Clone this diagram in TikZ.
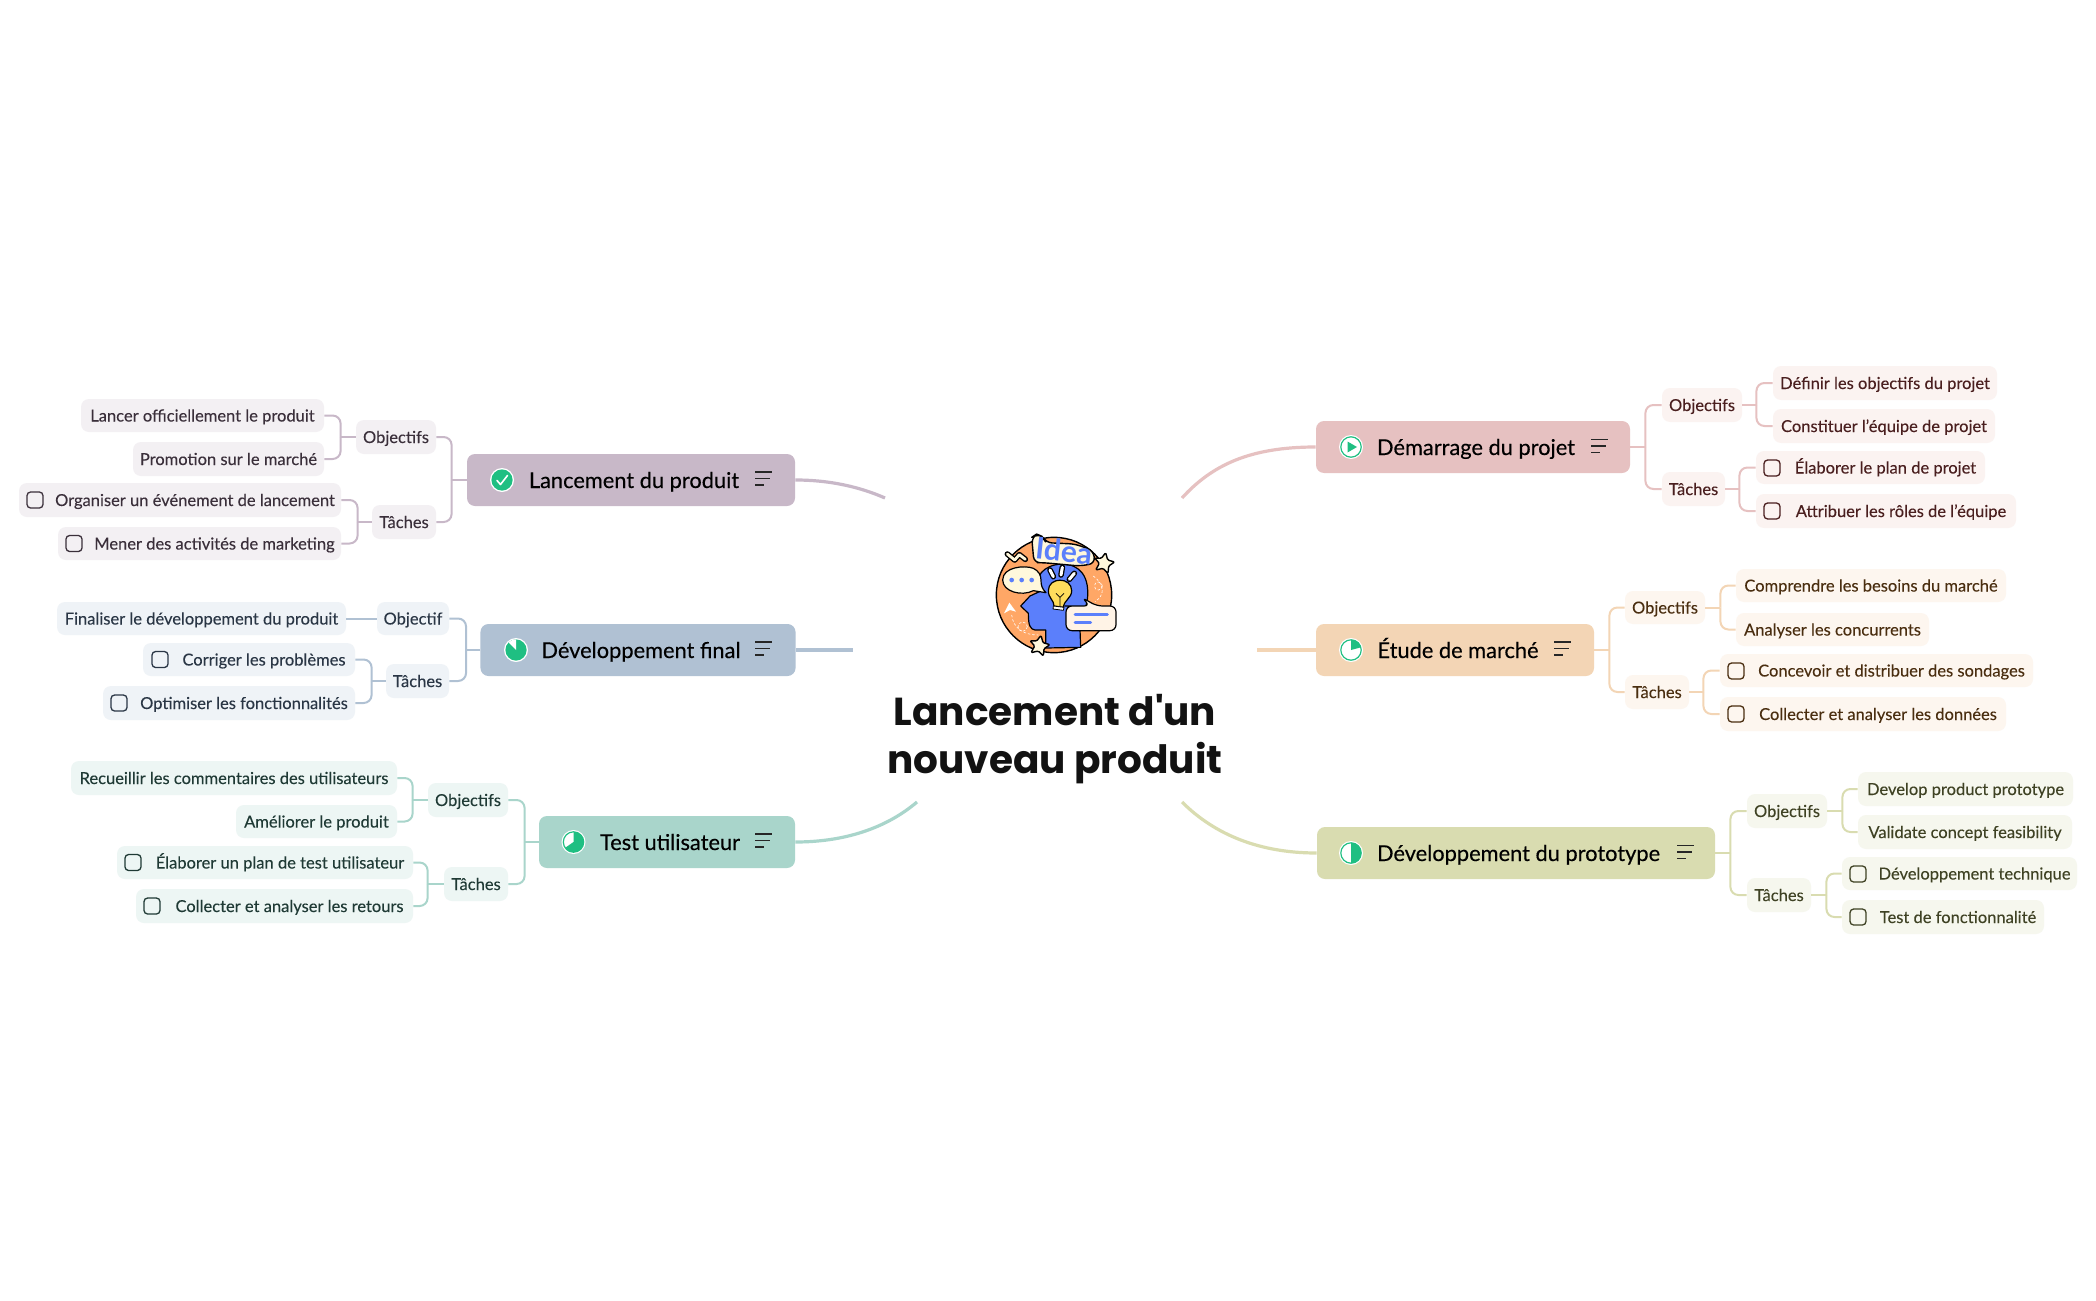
\documentclass[tikz,border=0pt]{standalone}
\usepackage{fontspec}
\setmainfont[FakeBold=0.12]{Lato}
\newfontfamily\titlefont{Poppins}
\newfontfamily\ideafont{Lato}
\newfontfamily\rootfont[FakeBold=0.3]{Lato}
\newdimen\pxu \pxu=0.5pt
\definecolor{gr}{HTML}{1FBF82}
\definecolor{ra}{HTML}{E6C1C1}\definecolor{rb}{HTML}{FBF3F1}\definecolor{rc}{HTML}{4A1F1F}
\definecolor{oa}{HTML}{F3D5B5}\definecolor{ob}{HTML}{FDF6EF}\definecolor{oc}{HTML}{4A2E10}
\definecolor{ya}{HTML}{D9DCB0}\definecolor{yb}{HTML}{F6F7EE}\definecolor{yc}{HTML}{3F4224}
\definecolor{pa}{HTML}{C8B8C8}\definecolor{pb}{HTML}{F3F0F3}\definecolor{pc}{HTML}{3A2F3A}
\definecolor{ba}{HTML}{B0C1D3}\definecolor{bb}{HTML}{EFF3F7}\definecolor{bc}{HTML}{2A3645}
\definecolor{ta}{HTML}{A9D5CB}\definecolor{tb}{HTML}{EDF6F4}\definecolor{tc}{HTML}{1F3A35}
\definecolor{orng}{HTML}{FFA766}\definecolor{blu}{HTML}{5B7FFB}\definecolor{crm}{HTML}{FFF8DC}
\definecolor{ylw}{HTML}{FFDD5C}\definecolor{pale}{HTML}{FFF3E6}
\tikzset{
 rootbox/.style={rounded corners=4pt,inner sep=0pt,text height=11pt,text depth=3pt,font=\rootfont\fontsize{10.9}{12}\selectfont,text=black},
 subbox/.style={rounded corners=4pt,inner sep=0pt,text height=8pt,text depth=2pt,font=\fontsize{8.25}{9}\selectfont},
 curve/.style={line width=1.6pt},
 elbow/.style={line width=1pt},
 chk/.style={line width=0.65pt,rounded corners=1.8pt},
 menuline/.style={line width=0.8pt,color=black!85},
}
\newcommand\bx[8]{\node[#2,minimum width={(#5-#3)*0.5pt},minimum height={(#6-#4)*0.5pt}] (#1) at ({(#3+#5)/2},{(#4+#6)/2}) {\hspace*{#7\pxu}#8};}
\newcommand\brR[4]{\draw[elbow,#1] (#2.east) -- ++(#4,0) coordinate (sp); \draw[elbow,#1,rounded corners=4pt] (sp) |- (#3.west);}
\newcommand\brL[4]{\draw[elbow,#1] (#2.west) -- ++(-#4,0) coordinate (sp); \draw[elbow,#1,rounded corners=4pt] (sp) |- (#3.east);}
\newcommand\chkbox[3]{\draw[chk,#3] (#1,#2-8) rectangle (#1+16,#2+8);}
\newcommand\menuic[2]{\draw[menuline] (#1,#2-6.5) -- ++(17,0) (#1,#2) -- ++(15,0) (#1,#2+6.5) -- ++(9,0);}
\newcommand\ring[2]{\fill[white] (#1,#2) circle (12); \draw[gr,fill=white,line width=0.6pt] (#1,#2) circle (10.2);}
\begin{document}
\begin{tikzpicture}[x=0.5pt,y=-0.5pt]
\useasboundingbox (0,0) rectangle (2096,1300);
\fill[white] (0,0) rectangle (2096,1300);

% central picture
\begin{scope}[shift={(980,520)},x=0.16667pt,y=-0.16667pt,line join=round]
 \draw[draw=black,fill=orng,line width=0.7pt] (222,225) circle (173);
 \draw[white,line width=0.3pt,dash pattern=on 1.2pt off 1pt] (95,285) .. controls (100,325) and (130,345) .. (175,345);
 \draw[white,line width=0.3pt,dash pattern=on 1.2pt off 1pt] (128,320) circle (14);
 \draw[white,line width=0.3pt,dash pattern=on 1.2pt off 1pt] (340,168) .. controls (375,195) and (375,225) .. (345,245);
 \draw[white,line width=0.3pt,dash pattern=on 1.2pt off 1pt] (355,198) circle (12);
 \fill[white] (72,280) -- (88,248) -- (108,275) -- (90,270) -- cycle;
 \draw[fill=blu,line width=0.6pt] (197,384) -- (197,330) -- (165,330) .. controls (150,328) and (145,315) .. (145,280) -- (122,258) -- (150,228) -- (178,215)
   .. controls (160,170) and (190,135) .. (245,132) .. controls (300,132) and (330,170) .. (322,240) -- (300,330) -- (302,382) -- cycle;
 \draw[fill=crm,line width=0.6pt] (160,145) .. controls (135,135) and (68,140) .. (68,180) .. controls (68,215) and (125,230) .. (160,212) -- (198,218) .. controls (185,205) and (183,195) .. (183,180) .. controls (183,165) and (175,152) .. (160,145) -- cycle;
 \foreach \x in {95,125,155} \fill[blu] (\x,180) circle (7);
 \draw[fill=ylw,line width=0.6pt] (222,258) .. controls (222,240) and (205,235) .. (205,212) .. controls (205,170) and (275,170) .. (275,212) .. controls (275,235) and (252,240) .. (250,262) -- cycle;
 \draw[line width=0.4pt] (240,262) -- (240,232) -- (228,220) (240,232) -- (252,220);
 \draw[fill=white,line width=0.4pt] (220,258) -- (252,262) -- (250,271) -- (219,267) -- cycle;
 \foreach \a/\b/\c/\d in {210/150/220/170, 247/142/243/165, 283/160/268/178} {
   \draw[line width=2.8pt,line cap=round] (\a,\b) -- (\c,\d);
   \draw[white,line width=1.5pt,line cap=round] (\a,\b) -- (\c,\d);}
 \draw[fill=pale,line width=0.6pt,rounded corners=3pt] (272,258) -- (330,258) -- (305,232) -- (350,258) -- (408,258) -- (408,332) -- (258,332) -- (258,258) -- cycle;
 \draw[blu,line width=1.4pt,line cap=round] (285,283) -- (382,283) (285,307) -- (332,307);
 \foreach \cx/\cy in {372/130,178/378} {
   \draw[fill=crm,line width=0.7pt,rounded corners=0.6pt] (\cx+5,\cy-32) -- (\cx+11,\cy-10) -- (\cx+32,\cy-4) -- (\cx+14,\cy+8) -- (\cx+12,\cy+30) -- (\cx-3,\cy+15) -- (\cx-25,\cy+20) -- (\cx-14,\cy) -- (\cx-28,\cy-16) -- (\cx-8,\cy-15) -- cycle;}
 \draw[line width=2.8pt,line join=round,line cap=round] (82,102) -- (104,120) -- (118,104) -- (136,118);
 \draw[crm,line width=1.4pt,line join=round,line cap=round] (82,102) -- (104,120) -- (118,104) -- (136,118);
 \draw[fill=crm,line width=0.7pt,rounded corners=3pt] (155,52) -- (170,42) -- (188,50) -- (198,68) -- (285,72) -- (340,92) -- (345,130) -- (300,138) -- (190,128) -- (162,128) -- cycle;
 \node[rotate=-6,text=blu,font=\ideafont\bfseries\fontsize{15}{16}\selectfont,inner sep=0pt] (idea) at (252,92) {Idea};
\end{scope}

% central topic
\node[font=\titlefont\bfseries\fontsize{19.5}{24}\selectfont,align=center,inner sep=0pt,text=black!93,anchor=base] (titre) at (1055,773) {Lancement d'un\\nouveau produit};
\coordinate (c1) at (1182,498);
\coordinate (c2) at (1257,650);
\coordinate (c3) at (1182,802);
\coordinate (c4) at (885,498);
\coordinate (c5) at (853,650);
\coordinate (c6) at (917,802);

% ---- Démarrage
\bx{dem}{rootbox,fill=ra}{1316}{421}{1630}{473}{61}{Démarrage du projet\hspace*{55\pxu}}
\bx{demo}{subbox,fill=rb,text=rc}{1662}{388}{1742}{422}{0}{Objectifs}
\bx{demt}{subbox,fill=rb,text=rc}{1662}{472}{1725}{506}{0}{Tâches}
\bx{dema}{subbox,fill=rb,text=rc}{1773}{366}{1997}{400}{0}{Définir les objectifs du projet}
\bx{demb}{subbox,fill=rb,text=rc}{1773}{409}{1995}{443}{0}{Constituer l'équipe de projet}
\bx{demc}{subbox,fill=rb,text=rc}{1756}{451}{1985}{484}{30}{Élaborer le plan de projet}
\bx{demd}{subbox,fill=rb,text=rc}{1756}{494}{2016}{528}{30}{Attribuer les rôles de l'équipe}
\draw[curve,ra] (dem.west) .. controls (1250,447) and (1212,465) .. (c1);
\brR{ra}{dem}{demo}{15}\brR{ra}{dem}{demt}{15}
\brR{ra}{demo}{dema}{14}\brR{ra}{demo}{demb}{14}
\brR{ra}{demt}{demc}{14}\brR{ra}{demt}{demd}{14}
\chkbox{1764}{468}{rc}\chkbox{1764}{511}{rc}
\ring{1351}{447}\fill[gr] (1347.5,441.5) -- (1357,447) -- (1347.5,452.5) -- cycle;
\menuic{1591}{446}

% ---- Étude
\bx{etu}{rootbox,fill=oa}{1316}{624}{1594}{676}{61}{Étude de marché\hspace*{55\pxu}}
\bx{etuo}{subbox,fill=ob,text=oc}{1625}{591}{1705}{624}{0}{Objectifs}
\bx{etut}{subbox,fill=ob,text=oc}{1625}{675}{1689}{709}{0}{Tâches}
\bx{etua}{subbox,fill=ob,text=oc}{1736}{569}{2006}{602}{0}{Comprendre les besoins du marché}
\bx{etub}{subbox,fill=ob,text=oc}{1736}{613}{1929}{646}{0}{Analyser les concurrents}
\bx{etuc}{subbox,fill=ob,text=oc}{1720}{654}{2033}{687}{30}{Concevoir et distribuer des sondages}
\bx{etud}{subbox,fill=ob,text=oc}{1720}{697}{2006}{731}{30}{Collecter et analyser les données}
\draw[curve,oa] (etu.west) -- (c2);
\brR{oa}{etu}{etuo}{15}\brR{oa}{etu}{etut}{15}
\brR{oa}{etuo}{etua}{15}\brR{oa}{etuo}{etub}{15}
\brR{oa}{etut}{etuc}{14}\brR{oa}{etut}{etud}{14}
\chkbox{1728}{671}{oc}\chkbox{1728}{714}{oc}
\ring{1351}{650}\fill[gr] (1351,650) -- (1351,639.8) arc[start angle=-90,end angle=-15,radius=10.2] -- cycle;
\menuic{1554}{648.5}

% ---- Prototype
\bx{pro}{rootbox,fill=ya}{1317}{827}{1715}{879}{60}{Développement du prototype\hspace*{55\pxu}}
\bx{proo}{subbox,fill=yb,text=yc}{1747}{794}{1827}{828}{0}{Objectifs}
\bx{prot}{subbox,fill=yb,text=yc}{1747}{878}{1811}{912}{0}{Tâches}
\bx{proa}{subbox,fill=yb,text=yc}{1858}{772}{2073}{806}{0}{Develop product prototype}
\bx{prob}{subbox,fill=yb,text=yc}{1858}{815}{2072}{849}{0}{Validate concept feasibility}
\bx{proc}{subbox,fill=yb,text=yc}{1842}{857}{2077}{890}{30}{Développement technique}
\bx{prod}{subbox,fill=yb,text=yc}{1842}{900}{2044}{934}{30}{Test de fonctionnalité}
\draw[curve,ya] (pro.west) .. controls (1260,853) and (1215,835) .. (c3);
\brR{ya}{pro}{proo}{15}\brR{ya}{pro}{prot}{15}
\brR{ya}{proo}{proa}{15}\brR{ya}{proo}{prob}{15}
\brR{ya}{prot}{proc}{15}\brR{ya}{prot}{prod}{15}
\chkbox{1850}{874}{yc}\chkbox{1850}{917}{yc}
\ring{1351}{853}\fill[gr] (1351,842.8) arc[start angle=-90,end angle=90,radius=10.2] -- cycle;
\menuic{1677}{852}

% ---- Lancement
\bx{lan}{rootbox,fill=pa}{467}{454}{795}{506}{61}{Lancement du produit\hspace*{55\pxu}}
\bx{lano}{subbox,fill=pb,text=pc}{356}{420}{436}{454}{0}{Objectifs}
\bx{lant}{subbox,fill=pb,text=pc}{372}{505}{436}{539}{0}{Tâches}
\bx{lana}{subbox,fill=pb,text=pc}{81}{399}{324}{432}{0}{Lancer officiellement le produit}
\bx{lanb}{subbox,fill=pb,text=pc}{133}{442}{324}{476}{0}{Promotion sur le marché}
\bx{lanc}{subbox,fill=pb,text=pc}{19}{483}{341}{517}{30}{Organiser un événement de lancement}
\bx{land}{subbox,fill=pb,text=pc}{58}{527}{341}{560}{30}{Mener des activités de marketing}
\draw[curve,pa] (lan.east) .. controls (830,480) and (860,487) .. (c4);
\brL{pa}{lan}{lano}{15}\brL{pa}{lan}{lant}{15}
\brL{pa}{lano}{lana}{15}\brL{pa}{lano}{lanb}{15}
\brL{pa}{lant}{lanc}{14}\brL{pa}{lant}{land}{14}
\chkbox{27}{500}{pc}\chkbox{66}{543.5}{pc}
\fill[white] (502,480) circle (12);\fill[gr] (502,480) circle (10.6);
\draw[white,line width=0.8pt,line cap=round,line join=round] (497,480.5) -- (500.5,484.5) -- (507.5,475.5);
\menuic{755}{478.5}

% ---- Final
\bx{fin}{rootbox,fill=ba}{481}{624}{795}{676}{61}{Développement final\hspace*{55\pxu}}
\bx{fino}{subbox,fill=bb,text=bc}{377}{602}{449}{635}{0}{Objectif}
\bx{fint}{subbox,fill=bb,text=bc}{386}{664}{449}{698}{0}{Tâches}
\bx{fina}{subbox,fill=bb,text=bc}{57}{602}{346}{635}{0}{Finaliser le développement du produit}
\bx{finb}{subbox,fill=bb,text=bc}{143}{643}{355}{676}{30}{Corriger les problèmes}
\bx{finc}{subbox,fill=bb,text=bc}{103}{686}{355}{720}{30}{Optimiser les fonctionnalités}
\draw[curve,ba] (fin.east) -- (c5);
\brL{ba}{fin}{fino}{14}\brL{ba}{fin}{fint}{14}
\draw[elbow,ba] (fino.west) -- (fina.east);
\brL{ba}{fint}{finb}{14}\brL{ba}{fint}{finc}{14}
\chkbox{152}{659.5}{bc}\chkbox{111}{703}{bc}
\fill[white] (516,650) circle (12);\fill[gr] (516,650) circle (10.6);
\fill[white] (516,650) -- (516,639.4) arc[start angle=-90,end angle=-135,radius=10.6] -- cycle;
\menuic{755}{648.5}

% ---- Test
\bx{tes}{rootbox,fill=ta}{539}{816}{795}{868}{61}{Test utilisateur\hspace*{55\pxu}}
\bx{teso}{subbox,fill=tb,text=tc}{428}{783}{508}{817}{0}{Objectifs}
\bx{test}{subbox,fill=tb,text=tc}{444}{867}{508}{901}{0}{Tâches}
\bx{tesa}{subbox,fill=tb,text=tc}{71}{761}{397}{795}{0}{Recueillir les commentaires des utilisateurs}
\bx{tesb}{subbox,fill=tb,text=tc}{236}{805}{397}{838}{0}{Améliorer le produit}
\bx{tesc}{subbox,fill=tb,text=tc}{117}{846}{413}{879}{30}{Élaborer un plan de test utilisateur}
\bx{tesd}{subbox,fill=tb,text=tc}{136}{889}{413}{923}{30}{Collecter et analyser les retours}
\draw[curve,ta] (tes.east) .. controls (850,842) and (890,825) .. (c6);
\brL{ta}{tes}{teso}{14}\brL{ta}{tes}{test}{14}
\brL{ta}{teso}{tesa}{15}\brL{ta}{teso}{tesb}{15}
\brL{ta}{test}{tesc}{16}\brL{ta}{test}{tesd}{16}
\chkbox{125}{862.5}{tc}\chkbox{144}{906}{tc}
\fill[white] (573.5,842) circle (12);\draw[gr,fill=white,line width=0.6pt] (573.5,842) circle (10.2);
\fill[gr] (573.5,842) -- (573.5,831.8) arc[start angle=-90,end angle=145,radius=10.2] -- cycle;
\menuic{755}{840.5}
\end{tikzpicture}
\end{document}
